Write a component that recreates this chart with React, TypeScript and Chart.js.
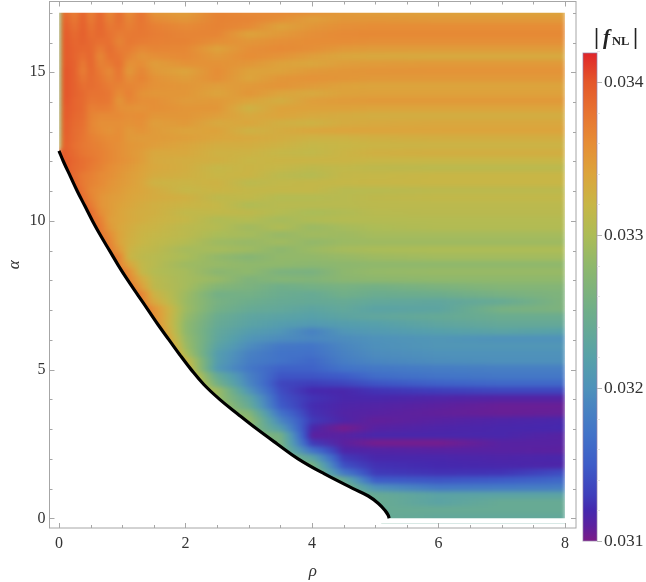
import React, { useEffect, useRef } from "react";
import { Chart, registerables } from "chart.js";

Chart.register(...registerables);

const SERIF = "'Liberation Serif', serif";

// tick lists
const rhoTicks = [0, 2, 4, 6, 8];
const alphaTicks = [0, 5, 10, 15];
const rhoMinorTicks = [0, 0.5, 1, 1.5, 2, 2.5, 3, 3.5, 4, 4.5, 5, 5.5, 6, 6.5, 7, 7.5, 8];
const alphaMinorTicks = [0, 1, 2, 3, 4, 5, 6, 7, 8, 9, 10, 11, 12, 13, 14, 15, 16, 17];
const legendTicks = [0.031, 0.032, 0.033, 0.034];
const legendMinorTicks = [0.0312, 0.0314, 0.0316, 0.0318, 0.0322, 0.0324, 0.0326, 0.0328, 0.0332, 0.0334, 0.0336, 0.0338, 0.0342];

// critical curve
const boundaryRho = [0, 0.07, 0.18, 0.29, 0.41, 0.53, 0.66, 0.8, 0.94, 1.09, 1.25, 1.41, 1.57, 1.74, 1.91, 2.09, 2.29, 2.54, 2.83, 3.13, 3.45, 3.78, 4.19, 4.65, 4.89, 5.05, 5.16, 5.205, 5.22];
const boundaryAlpha = [12.36, 12, 11.5, 11, 10.5, 10, 9.5, 9, 8.5, 8, 7.5, 7, 6.5, 6, 5.5, 5, 4.5, 4, 3.5, 3, 2.5, 2, 1.5, 1, 0.75, 0.5, 0.25, 0.1, 0];

// |fNL| in units of 1e-5 on a rho/alpha grid, each row right-aligned to rhoColumns
const rhoColumns = [0, 0.06, 0.25, 0.38, 0.5, 0.65, 0.8, 0.95, 1.1, 1.3, 1.5, 2, 2.5, 3, 3.5, 4, 4.5, 5, 6, 7, 8];
const alphaRows = [17, 16.75, 16.5, 16.25, 16, 15.75, 15.5, 15.25, 15, 14.75, 14.5, 14.25, 14, 13.75, 13.5, 13.25, 13, 12.75, 12.5, 12.25, 12, 11.75, 11.5, 11.25, 11, 10.75, 10.5, 10.25, 10, 9.75, 9.5, 9.25, 9, 8.75, 8.5, 8.25, 8, 7.75, 7.5, 7.25, 7, 6.75, 6.5, 6.25, 6, 5.75, 5.5, 5.25, 5, 4.75, 4.5, 4.25, 4, 3.75, 3.5, 3.25, 3, 2.75, 2.5, 2.25, 2, 1.75, 1.5, 1.25, 1, 0.75, 0.5, 0.25, 0];
const rowStart = [0, 0, 0, 0, 0, 0, 0, 0, 0, 0, 0, 0, 0, 0, 0, 0, 0, 0, 0, 0, 0, 0.02, 0.07, 0.12, 0.17, 0.23, 0.28, 0.34, 0.4, 0.47, 0.53, 0.6, 0.67, 0.75, 0.83, 0.91, 0.99, 1.07, 1.14, 1.21, 1.29, 1.36, 1.43, 1.51, 1.6, 1.7, 1.78, 1.88, 1.95, 2.06, 2.16, 2.3, 2.44, 2.57, 2.7, 2.85, 3, 3.16, 3.32, 3.49, 3.66, 3.86, 4.08, 4.3, 4.54, 4.77, 4.93, 5.04, 5.1];
const rowEdge = [3230, 3230, 3230, 3230, 3230, 3230, 3230, 3230, 3230, 3230, 3230, 3230, 3230, 3230, 3240, 3240, 3240, 3250, 3260, 3400, 3400, 3400, 3400, 3400, 3400, 3400, 3400, 3395, 3395, 3392, 3392, 3390, 3390, 3388, 3388, 3385, 3385, 3385, 3385, 3385, 3385, 3380, 3375, 3370, 3365, 3360, 3355, 3350, 3345, 3335, 3325, 3310, 3295, 3290, 3285, 3280, 3275, 3270, 3265, 3265, 3260, 3260, 3260, 3260, 3255, 3250, 3245, 3240, 3240];
const fieldRows = [
  [3230, 3390, 3370, 3392, 3368, 3390, 3362, 3385, 3358, 3380, 3352, 3345, 3368, 3362, 3362, 3358, 3350, 3345, 3342, 3340, 3340],
  [3230, 3395, 3375, 3394, 3372, 3390, 3368, 3384, 3365, 3380, 3362, 3352, 3368, 3366, 3358, 3345, 3352, 3352, 3350, 3350, 3350],
  [3230, 3398, 3380, 3394, 3378, 3390, 3375, 3380, 3370, 3378, 3370, 3362, 3368, 3362, 3342, 3352, 3358, 3360, 3360, 3360, 3360],
  [3230, 3400, 3385, 3394, 3382, 3388, 3380, 3372, 3375, 3376, 3372, 3366, 3366, 3342, 3350, 3358, 3362, 3363, 3363, 3363, 3363],
  [3230, 3400, 3388, 3392, 3386, 3382, 3382, 3366, 3376, 3372, 3370, 3368, 3358, 3352, 3358, 3360, 3360, 3358, 3358, 3358, 3358],
  [3230, 3400, 3390, 3388, 3388, 3372, 3384, 3372, 3372, 3362, 3366, 3364, 3342, 3358, 3362, 3358, 3350, 3348, 3348, 3348, 3348],
  [3230, 3400, 3390, 3382, 3390, 3364, 3382, 3378, 3366, 3354, 3358, 3362, 3350, 3360, 3355, 3345, 3338, 3336, 3335, 3335, 3335],
  [3230, 3400, 3392, 3374, 3390, 3368, 3374, 3382, 3356, 3360, 3346, 3356, 3356, 3352, 3342, 3338, 3345, 3348, 3350, 3350, 3350],
  [3230, 3402, 3392, 3370, 3388, 3374, 3362, 3380, 3350, 3366, 3350, 3340, 3360, 3342, 3342, 3350, 3352, 3354, 3355, 3355, 3355],
  [3230, 3402, 3392, 3376, 3386, 3378, 3366, 3376, 3358, 3368, 3356, 3346, 3358, 3340, 3352, 3355, 3352, 3350, 3350, 3350, 3350],
  [3230, 3402, 3392, 3382, 3384, 3380, 3372, 3368, 3366, 3362, 3356, 3352, 3345, 3350, 3354, 3348, 3342, 3340, 3340, 3340, 3340],
  [3230, 3402, 3392, 3386, 3380, 3380, 3376, 3360, 3370, 3356, 3352, 3352, 3340, 3352, 3340, 3335, 3342, 3343, 3343, 3343, 3343],
  [3230, 3402, 3390, 3386, 3376, 3378, 3376, 3352, 3366, 3358, 3358, 3348, 3350, 3340, 3330, 3345, 3348, 3350, 3350, 3350, 3350],
  [3230, 3400, 3390, 3386, 3370, 3372, 3370, 3358, 3356, 3355, 3358, 3352, 3352, 3325, 3342, 3342, 3342, 3340, 3340, 3340, 3340],
  [3240, 3400, 3388, 3384, 3368, 3362, 3362, 3362, 3358, 3360, 3352, 3352, 3345, 3335, 3340, 3335, 3332, 3330, 3330, 3330, 3330],
  [3240, 3398, 3386, 3382, 3366, 3358, 3358, 3358, 3356, 3358, 3345, 3350, 3335, 3338, 3328, 3325, 3332, 3335, 3337, 3337, 3337],
  [3240, 3398, 3384, 3380, 3366, 3360, 3355, 3360, 3350, 3355, 3348, 3340, 3342, 3325, 3332, 3338, 3340, 3340, 3340, 3340, 3340],
  [3250, 3396, 3384, 3378, 3370, 3365, 3360, 3360, 3350, 3348, 3348, 3344, 3338, 3335, 3330, 3325, 3325, 3328, 3330, 3330, 3330],
  [3260, 3396, 3382, 3376, 3372, 3368, 3362, 3358, 3352, 3350, 3345, 3338, 3330, 3330, 3325, 3318, 3320, 3322, 3323, 3323, 3323],
  [3396, 3385, 3378, 3374, 3370, 3364, 3358, 3352, 3346, 3336, 3336, 3326, 3325, 3318, 3315, 3322, 3328, 3330, 3330, 3330],
  [3388, 3382, 3378, 3370, 3364, 3358, 3354, 3346, 3335, 3330, 3328, 3320, 3322, 3322, 3322, 3320, 3320, 3320, 3320],
  [3386, 3382, 3375, 3368, 3360, 3355, 3350, 3342, 3336, 3330, 3318, 3322, 3318, 3312, 3315, 3312, 3310, 3310, 3310],
  [3384, 3375, 3370, 3362, 3358, 3352, 3346, 3340, 3332, 3328, 3320, 3322, 3310, 3306, 3316, 3318, 3320, 3320, 3320],
  [3375, 3368, 3362, 3355, 3350, 3345, 3338, 3325, 3322, 3325, 3310, 3315, 3316, 3318, 3319, 3320, 3320, 3320],
  [3378, 3365, 3358, 3352, 3348, 3342, 3338, 3332, 3318, 3322, 3316, 3316, 3316, 3308, 3308, 3310, 3310, 3310],
  [3382, 3368, 3355, 3348, 3345, 3340, 3336, 3332, 3328, 3312, 3315, 3305, 3305, 3308, 3312, 3315, 3315, 3315],
  [3375, 3355, 3348, 3342, 3338, 3332, 3328, 3322, 3318, 3302, 3308, 3308, 3308, 3310, 3310, 3310, 3310],
  [3385, 3360, 3348, 3340, 3335, 3330, 3328, 3315, 3315, 3312, 3305, 3298, 3302, 3308, 3309, 3309, 3309],
  [3370, 3345, 3340, 3335, 3330, 3325, 3318, 3302, 3305, 3295, 3302, 3305, 3305, 3305, 3305, 3305],
  [3375, 3350, 3338, 3332, 3325, 3322, 3310, 3305, 3292, 3302, 3288, 3295, 3300, 3304, 3304, 3304],
  [3360, 3340, 3330, 3322, 3318, 3310, 3298, 3295, 3285, 3292, 3290, 3295, 3295, 3295, 3295],
  [3368, 3340, 3328, 3320, 3315, 3305, 3290, 3285, 3292, 3282, 3288, 3290, 3290, 3290, 3290],
  [3350, 3325, 3315, 3312, 3295, 3295, 3290, 3278, 3288, 3295, 3298, 3300, 3300, 3300],
  [3368, 3322, 3312, 3308, 3298, 3282, 3272, 3282, 3282, 3285, 3290, 3293, 3293, 3293],
  [3340, 3315, 3308, 3290, 3285, 3280, 3280, 3276, 3278, 3280, 3280, 3280, 3280],
  [3360, 3318, 3305, 3295, 3275, 3280, 3262, 3260, 3278, 3284, 3286, 3286, 3286],
  [3335, 3310, 3295, 3285, 3265, 3270, 3268, 3275, 3278, 3280, 3280, 3280],
  [3345, 3312, 3295, 3270, 3262, 3250, 3255, 3258, 3255, 3262, 3270, 3270],
  [3368, 3325, 3290, 3255, 3255, 3245, 3240, 3252, 3245, 3248, 3258, 3265],
  [3335, 3288, 3258, 3248, 3240, 3238, 3240, 3235, 3232, 3240, 3265],
  [3355, 3290, 3255, 3240, 3235, 3228, 3235, 3225, 3228, 3258, 3263],
  [3285, 3245, 3230, 3225, 3220, 3228, 3232, 3238, 3245, 3245],
  [3280, 3240, 3225, 3215, 3210, 3215, 3218, 3230, 3237, 3237],
  [3280, 3235, 3215, 3205, 3185, 3205, 3210, 3218, 3225, 3220],
  [3285, 3232, 3205, 3195, 3190, 3195, 3200, 3205, 3200, 3200],
  [3290, 3225, 3195, 3175, 3172, 3190, 3198, 3205, 3205, 3205],
  [3300, 3215, 3185, 3170, 3168, 3185, 3195, 3200, 3200, 3200],
  [3215, 3180, 3170, 3160, 3180, 3190, 3196, 3198, 3198],
  [3210, 3175, 3155, 3155, 3170, 3175, 3180, 3183, 3183],
  [3240, 3185, 3145, 3145, 3150, 3165, 3172, 3175, 3175],
  [3255, 3190, 3135, 3130, 3135, 3145, 3155, 3160, 3160],
  [3290, 3205, 3140, 3120, 3118, 3125, 3130, 3135, 3135],
  [3230, 3145, 3125, 3118, 3118, 3115, 3113, 3113],
  [3240, 3150, 3122, 3116, 3114, 3110, 3106, 3106],
  [3270, 3170, 3124, 3114, 3112, 3108, 3106, 3107],
  [3285, 3190, 3128, 3116, 3108, 3112, 3116, 3118],
  [3215, 3118, 3102, 3112, 3116, 3118, 3120],
  [3255, 3110, 3112, 3118, 3118, 3118, 3112],
  [3260, 3128, 3110, 3102, 3102, 3112, 3112],
  [3170, 3116, 3114, 3112, 3112, 3110],
  [3225, 3128, 3118, 3118, 3116, 3118],
  [3260, 3142, 3124, 3120, 3118, 3116],
  [3175, 3128, 3124, 3125, 3140],
  [3240, 3150, 3145, 3150, 3160],
  [3200, 3175, 3178, 3180],
  [3240, 3225, 3225, 3225],
  [3225, 3240, 3240],
  [3240, 3240, 3240],
  [3235, 3235, 3235],
];

// colour scale: value (1e-5) -> colour
const scaleValues = [3100, 3110, 3120, 3130, 3150, 3170, 3190, 3200, 3220, 3250, 3280, 3300, 3320, 3340, 3360, 3380, 3400, 3420];
const scaleColors = ["#7B1C88", "#5B219F", "#4528AE", "#3F3EBB", "#3E5CC8", "#4273C8", "#4A86C0", "#4F92BA", "#57A1A9", "#6FAE8A", "#8FB86C", "#ADBC56", "#C8B646", "#DCA43C", "#E68D36", "#E77332", "#E4572B", "#E0232A"];

function rgbOf(hex: string) {
  return [1, 3, 5].map((i) => parseInt(hex.slice(i, i + 2), 16));
}
function colorOf(v: number) {
  const n = scaleValues.length;
  if (v <= scaleValues[0]) return scaleColors[0];
  if (v >= scaleValues[n - 1]) return scaleColors[n - 1];
  let i = 0;
  while (v > scaleValues[i + 1]) i++;
  const t = (v - scaleValues[i]) / (scaleValues[i + 1] - scaleValues[i]);
  const a = rgbOf(scaleColors[i]);
  const b = rgbOf(scaleColors[i + 1]);
  const c = a.map((x, k) => Math.round(x + (b[k] - x) * t));
  return `rgb(${c[0]},${c[1]},${c[2]})`;
}

const heatData = alphaRows.map((a, i) => ({ x: [rowStart[i], 8], y: a }));
const curveData = boundaryRho.map((r, i) => ({ x: r, y: boundaryAlpha[i] }));

// A row's fill: its readings become colour stops; long jumps follow the colour scale
// instead of cutting straight through RGB.
function rowGradient(context: any) {
  const chart = context.chart;
  const i = context.dataIndex;
  const sx = chart.scales.x;
  if (i === undefined || !sx) return "#888";
  const x0 = sx.getPixelForValue(rowStart[i]);
  const x1 = sx.getPixelForValue(8);
  if (!Number.isFinite(x0) || !Number.isFinite(x1) || x1 <= x0) return "#888";
  const g = chart.ctx.createLinearGradient(x0, 0, x1, 0);
  const row = fieldRows[i];
  const cols = rhoColumns.slice(-row.length);
  let prevP = 0;
  let prevV = rowEdge[i];
  g.addColorStop(0, colorOf(prevV));
  row.forEach((v: number, k: number) => {
    const p = Math.min(1, Math.max(0, (sx.getPixelForValue(cols[k]) - x0) / (x1 - x0)));
    const n = Math.max(1, Math.ceil(Math.abs(v - prevV) / 20));
    for (let s = 1; s <= n; s++) {
      g.addColorStop(prevP + ((p - prevP) * s) / n, colorOf(prevV + ((v - prevV) * s) / n));
    }
    prevP = p;
    prevV = v;
  });
  return g;
}

// redraws the cells smoothed and trims them along the critical curve
const smoothPlugin = {
  id: "smooth",
  beforeDatasetDraw(chart: any, args: any) {
    if (args.index !== 1) return;
    const { ctx, canvas } = chart;
    const sx = chart.scales.x;
    const sy = chart.scales.y;
    const copy = document.createElement("canvas");
    copy.width = canvas.width;
    copy.height = canvas.height;
    copy.getContext("2d")!.drawImage(canvas, 0, 0);
    const l = sx.getPixelForValue(0) - 1;
    const r = sx.getPixelForValue(8) + 1;
    const t = sy.getPixelForValue(17) - 5;
    const b = sy.getPixelForValue(0) + 5;
    ctx.save();
    ctx.clearRect(l, t, r - l, b - t);
    ctx.beginPath();
    ctx.moveTo(sx.getPixelForValue(0), sy.getPixelForValue(17));
    boundaryRho.forEach((rho, i) => ctx.lineTo(sx.getPixelForValue(rho), sy.getPixelForValue(boundaryAlpha[i])));
    ctx.lineTo(sx.getPixelForValue(8), sy.getPixelForValue(0));
    ctx.lineTo(sx.getPixelForValue(8), sy.getPixelForValue(17));
    ctx.closePath();
    ctx.clip();
    ctx.filter = "blur(2px)";
    ctx.drawImage(copy, 0, 0);
    ctx.restore();
  },
};

const FRAME = "#a6a6a6";

const framePlugin = {
  id: "frame",
  afterDraw(chart: any) {
    const { ctx, chartArea: a } = chart;
    const sx = chart.scales.x;
    const sy = chart.scales.y;
    ctx.save();
    ctx.strokeStyle = FRAME;
    ctx.lineWidth = 1;
    ctx.strokeRect(a.left, a.top, a.right - a.left, a.bottom - a.top);
    ctx.beginPath();
    rhoMinorTicks.forEach((v) => {
      const len = rhoTicks.includes(v) ? 5 : 3;
      const p = Math.round(sx.getPixelForValue(v)) + 0.5;
      ctx.moveTo(p, a.bottom);
      ctx.lineTo(p, a.bottom - len);
      ctx.moveTo(p, a.top);
      ctx.lineTo(p, a.top + len);
    });
    alphaMinorTicks.forEach((v) => {
      const len = alphaTicks.includes(v) ? 5 : 3;
      const p = Math.round(sy.getPixelForValue(v)) + 0.5;
      ctx.moveTo(a.left, p);
      ctx.lineTo(a.left + len, p);
      ctx.moveTo(a.right, p);
      ctx.lineTo(a.right - len, p);
    });
    ctx.stroke();
    ctx.restore();
  },
};

const legendPlugin = {
  id: "legendFrame",
  afterDraw(chart: any) {
    const { ctx, chartArea: a } = chart;
    const sy = chart.scales.y;
    ctx.save();
    ctx.strokeStyle = "rgba(150,130,170,0.7)";
    ctx.lineWidth = 1;
    ctx.strokeRect(a.left, a.top, a.right - a.left, a.bottom - a.top);
    ctx.strokeStyle = "#b5b5b5";
    ctx.beginPath();
    legendTicks.forEach((v) => {
      const p = Math.round(sy.getPixelForValue(v)) + 0.5;
      ctx.moveTo(a.right, p);
      ctx.lineTo(a.right + 5, p);
    });
    ctx.stroke();
    ctx.strokeStyle = "#e6e6e6";
    ctx.beginPath();
    legendMinorTicks.forEach((v) => {
      const p = Math.round(sy.getPixelForValue(v)) + 0.5;
      ctx.moveTo(a.right, p);
      ctx.lineTo(a.right + 3, p);
    });
    ctx.stroke();
    // legend title
    ctx.fillStyle = "#222";
    ctx.textBaseline = "alphabetic";
    ctx.font = `bold 23px ${SERIF}`;
    ctx.fillText("|", 594, 44);
    ctx.fillText("|", 633, 44);
    ctx.font = `italic bold 21px ${SERIF}`;
    ctx.fillText("f", 603, 44);
    ctx.font = `bold 12.5px ${SERIF}`;
    ctx.fillText("NL", 612, 45);
    ctx.restore();
  },
};

export default function App() {
  const mainRef = useRef<HTMLCanvasElement>(null);
  const barRef = useRef<HTMLCanvasElement>(null);

  useEffect(() => {
    const main = new Chart(mainRef.current!, {
      type: "bar",
      data: {
        datasets: [
          {
            type: "bar",
            label: "|fNL|",
            data: heatData as any,
            barThickness: 9,
            grouped: false,
            order: 2,
            borderWidth: 0,
            backgroundColor: rowGradient as any,
          } as any,
          {
            type: "line",
            label: "boundary",
            data: curveData as any,
            order: 1,
            borderColor: "#000",
            borderWidth: 3.2,
            pointRadius: 0,
            tension: 0.4,
            fill: false,
            clip: false,
          } as any,
        ],
      },
      options: {
        indexAxis: "y",
        animation: false,
        responsive: false,
        events: [],
        layout: { padding: { top: 1.5, right: 70, left: 0, bottom: 0 } },
        plugins: { legend: { display: false }, tooltip: { enabled: false } },
        scales: {
          x: {
            type: "linear",
            position: "bottom",
            min: -0.15,
            max: 8.174,
            grid: { display: false, drawTicks: false },
            border: { display: false },
            afterFit: (s: any) => { s.height = 54; s.paddingLeft = 0; s.paddingRight = 0; },
            afterBuildTicks: (s: any) => { s.ticks = rhoTicks.map((value) => ({ value })); },
            ticks: {
              autoSkip: false,
              maxRotation: 0,
              padding: 6,
              color: "#333",
              font: { family: SERIF, size: 16 },
              callback: (v: any) => String(v),
            },
            title: { display: true, text: "ρ", color: "#333", padding: 0, font: { family: SERIF, size: 17, style: "italic" } },
          },
          y: {
            type: "linear",
            position: "left",
            offset: false,
            min: -0.326,
            max: 17.38,
            grid: { display: false, offset: false, drawTicks: false },
            border: { display: false },
            afterFit: (s: any) => { s.width = 49.5; s.paddingTop = 0; s.paddingBottom = 0; },
            afterBuildTicks: (s: any) => { s.ticks = alphaTicks.map((value) => ({ value })); },
            ticks: {
              autoSkip: false,
              padding: 4,
              color: "#333",
              font: { family: SERIF, size: 16 },
              callback: (v: any) => String(v),
            },
            title: { display: true, text: "α", color: "#333", padding: 4, font: { family: SERIF, size: 17, style: "italic" } },
          },
        },
      } as any,
      plugins: [smoothPlugin, framePlugin],
    });

    const bar = new Chart(barRef.current!, {
      type: "bar",
      data: {
        labels: ["|fNL|"],
        datasets: [
          {
            data: [[0.031, 0.03419]] as any,
            categoryPercentage: 1,
            barPercentage: 1,
            borderWidth: 0,
            backgroundColor: (context: any) => {
              const chart = context.chart;
              const sy = chart.scales.y;
              if (!sy) return "#888";
              const y0 = sy.getPixelForValue(0.031);
              const y1 = sy.getPixelForValue(0.03419);
              if (!Number.isFinite(y0) || !Number.isFinite(y1) || y0 === y1) return "#888";
              const g = chart.ctx.createLinearGradient(0, y0, 0, y1);
              scaleValues.forEach((v, k) => {
                const p = (v / 1e5 - 0.031) / (0.03419 - 0.031);
                if (p <= 1) g.addColorStop(p, scaleColors[k]);
              });
              g.addColorStop(1, "#E0252A");
              return g;
            },
          } as any,
        ],
      },
      options: {
        animation: false,
        responsive: false,
        events: [],
        layout: { padding: { top: 53, right: 0, left: 583, bottom: 41 } },
        plugins: { legend: { display: false }, tooltip: { enabled: false } },
        scales: {
          x: { display: false },
          y: {
            position: "right",
            min: 0.031,
            max: 0.03419,
            grid: { display: false, drawTicks: false },
            border: { display: false },
            afterFit: (s: any) => { s.width = 49; s.paddingTop = 0; s.paddingBottom = 0; },
            afterBuildTicks: (s: any) => { s.ticks = legendTicks.map((value) => ({ value })); },
            ticks: {
              autoSkip: false,
              padding: 7,
              color: "#333",
              font: { family: SERIF, size: 17.5 },
              callback: (v: any) => Number(v).toFixed(3),
            },
          },
        },
      } as any,
      plugins: [legendPlugin],
    });

    return () => {
      main.destroy();
      bar.destroy();
    };
  }, []);

  const style: React.CSSProperties = { position: "absolute", left: 0, top: 0, display: "block" };
  return (
    <div>
      <canvas ref={mainRef} width={646} height={582} style={style} />
      <canvas ref={barRef} width={646} height={582} style={style} />
    </div>
  );
}
